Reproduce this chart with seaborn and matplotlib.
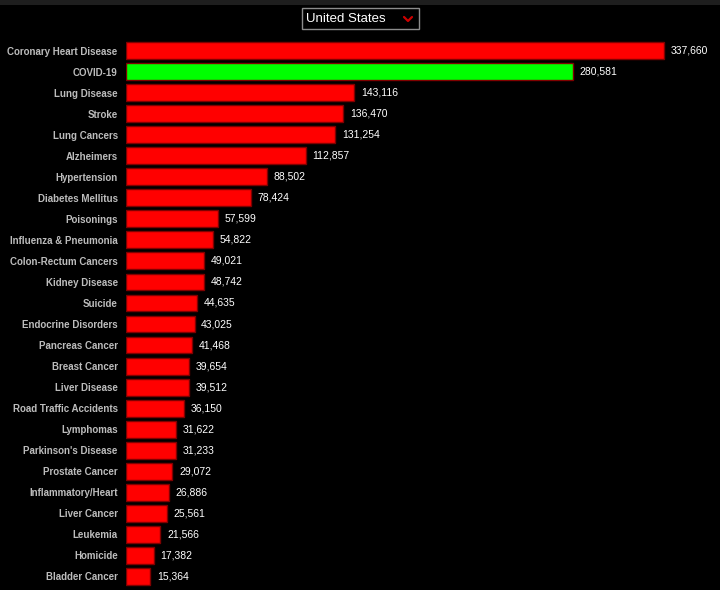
import matplotlib
matplotlib.use("Agg")
import matplotlib.pyplot as plt
import seaborn as sns
import pandas as pd
from matplotlib.lines import Line2D
from matplotlib.patches import Rectangle

causes = ["Coronary Heart Disease", "COVID-19", "Lung Disease", "Stroke", "Lung Cancers",
          "Alzheimers", "Hypertension", "Diabetes Mellitus", "Poisonings",
          "Influenza & Pneumonia", "Colon-Rectum Cancers", "Kidney Disease", "Suicide",
          "Endocrine Disorders", "Pancreas Cancer", "Breast Cancer", "Liver Disease",
          "Road Traffic Accidents", "Lymphomas", "Parkinson's Disease", "Prostate Cancer",
          "Inflammatory/Heart", "Liver Cancer", "Leukemia", "Homicide", "Bladder Cancer"]
deaths = [337660, 280581, 143116, 136470, 131254, 112857, 88502, 78424, 57599, 54822,
          49021, 48742, 44635, 43025, 41468, 39654, 39512, 36150, 31622, 31233, 29072,
          26886, 25561, 21566, 17382, 15364]
highlight = ["COVID-19"]
country = "United States"

df = pd.DataFrame({"cause": causes, "deaths": deaths})
df["kind"] = ["covid" if c in highlight else "other" for c in causes]

sns.set_style("dark")
plt.rcParams["font.family"] = ["Liberation Sans", "DejaVu Sans"]

fig = plt.figure(figsize=(7.2, 5.9), dpi=100, facecolor="black")
ax = fig.add_axes([126 / 720, 1 - 587 / 590, 594 / 720, (587 - 40) / 590])
ax.set_facecolor("black")

sns.barplot(data=df, x="deaths", y="cause", hue="kind", orient="h",
            palette={"other": "#ff0000", "covid": "#00ff00"}, saturation=1,
            edgecolor="#800000", linewidth=1, width=0.8, dodge=False,
            legend=False, ax=ax)

ax.set_xlim(0, 372800)
ax.set_ylim(len(causes) - 0.5, -0.5)
ax.set_xlabel("")
ax.set_ylabel("")
ax.set_xticks([])
ax.tick_params(axis="y", length=0, pad=6, labelsize=7.0, labelcolor="#bcbcbc")
for lbl in ax.get_yticklabels():
    lbl.set_fontweight("bold")
for s in ax.spines.values():
    s.set_visible(False)
ax.grid(False)

for i, v in enumerate(deaths):
    ax.text(v + 4200, i, f"{v:,}", color="white", fontsize=7.5,
            va="center", ha="left")

# top dark band
fig.patches.append(Rectangle((0, 1 - 5 / 590), 1, 5 / 590, transform=fig.transFigure,
                             facecolor="#1e1e1e", edgecolor="none", zorder=0))
# dropdown box
fig.patches.append(Rectangle((302 / 720, 1 - 29 / 590), 117 / 720, 21 / 590,
                             transform=fig.transFigure, facecolor="black",
                             edgecolor="#8c8c8c", linewidth=1))
fig.text(306 / 720, 1 - 18.5 / 590, country, color="white", fontsize=9.5,
         va="center", ha="left")
fig.lines.append(Line2D([404 / 720, 408 / 720, 412 / 720],
                        [1 - 17 / 590, 1 - 21 / 590, 1 - 17 / 590],
                        transform=fig.transFigure, color="#cc0000", linewidth=1.6))

fig.savefig("out.png", dpi=100, facecolor="black")
